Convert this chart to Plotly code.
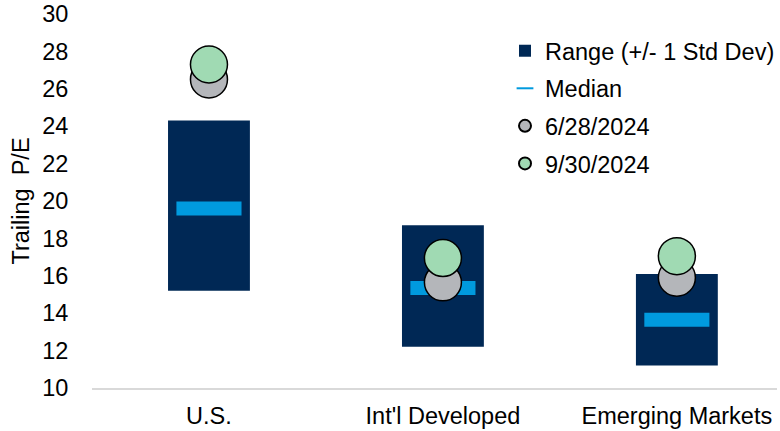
import plotly.graph_objects as go

categories = ["U.S.", "Int'l Developed", "Emerging Markets"]
range_low = [15.2, 12.2, 11.2]
range_high = [24.3, 18.7, 16.1]
median = [19.6, 15.35, 13.65]
pe_jun = [26.5, 15.65, 15.9]
pe_sep = [27.3, 16.95, 17.05]
y_ticks = [10, 12, 14, 16, 18, 20, 22, 24, 26, 28, 30]

FONT = "Liberation Sans, Arial, sans-serif"
FS = 23.5
NAVY = "#002855"
BLUE = "#009ADE"
GREY = "#B4B6BA"
GREEN = "#A0DAB3"

fig = go.Figure()
fig.add_trace(go.Bar(
    x=categories, y=[h - l for h, l in zip(range_high, range_low)], base=range_low,
    width=0.35, marker=dict(color=NAVY, line=dict(width=0)),
    name="Range (+/- 1 Std Dev)", legendgroup="a",
))
fig.add_trace(go.Scatter(
    x=categories, y=median, mode="markers",
    marker=dict(symbol="line-ew", size=46.5, color=BLUE, line=dict(color=BLUE, width=14)),
    name="Median", legendgroup="b",
))
fig.add_trace(go.Scatter(
    x=categories, y=pe_jun, mode="markers",
    marker=dict(symbol="circle", size=37, color=GREY, line=dict(color="black", width=1.5)),
    name="6/28/2024", legendgroup="c",
))
fig.add_trace(go.Scatter(
    x=categories, y=pe_sep, mode="markers",
    marker=dict(symbol="circle", size=37, color=GREEN, line=dict(color="black", width=1.5)),
    name="9/30/2024", legendgroup="d",
))

fig.update_layout(
    width=780, height=431,
    margin=dict(l=92, r=0, t=14, b=43),
    paper_bgcolor="white", plot_bgcolor="white",
    font=dict(family=FONT, size=FS, color="black"),
    showlegend=True,
    legend=dict(x=0.603, y=0.96, xanchor="left", yanchor="top",
                font=dict(size=FS), tracegroupgap=4, bgcolor="rgba(0,0,0,0)",
                traceorder="grouped", itemsizing="constant"),
    xaxis=dict(type="category", range=[-0.5, 2.428], showline=True,
               linecolor="#D9D9D9", linewidth=1.5, showgrid=False, zeroline=False,
               ticks="outside", ticklen=6, tickcolor="rgba(0,0,0,0)",
               tickfont=dict(size=FS), ticklabeloverflow="allow", automargin=False),
    yaxis=dict(range=[10, 30], tickvals=y_ticks, showgrid=False, zeroline=False,
               showline=False, ticks="outside", ticklen=18, tickcolor="rgba(0,0,0,0)",
               title=dict(text="Trailing  P/E", font=dict(size=FS), standoff=5),
               tickfont=dict(size=FS), ticklabeloverflow="allow", automargin=False),
)

fig.write_html(
    "out.html",
    config={"displayModeBar": False},
    post_script="document.body.style.margin='0';document.body.style.overflow='hidden';",
)
